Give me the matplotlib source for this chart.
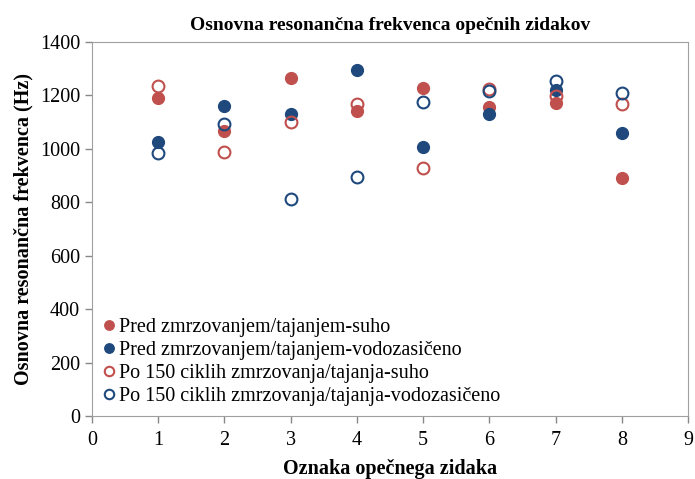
import matplotlib as mpl
import matplotlib.pyplot as plt

mpl.use('Agg')
plt.rcParams['font.family'] = ['Liberation Serif', 'DejaVu Serif']

zidak = [1, 2, 3, 4, 5, 6, 7, 8]
pred_suho = [1190, 1065, 1267, 1140, 1226, 1158, 1170, 892]
pred_voda = [1025, 1161, 1129, 1295, 1006, 1131, 1221, 1061]
po_suho = [1236, 987, 1100, 1169, 930, 1223, 1196, 1169]
po_voda = [984, 1092, 812, 893, 1176, 1216, 1255, 1210]

rdeca = '#C0504D'
modra = '#1F497D'

fig = plt.figure(figsize=(6.95, 4.79), dpi=100)
ax = fig.add_axes([92 / 695, 1 - 416 / 479, 596 / 695, 374 / 479])

ms = 8.5
ax.plot(zidak, pred_suho, 'o', ms=ms, color=rdeca, mec=rdeca,
        label='Pred zmrzovanjem/tajanjem-suho')
ax.plot(zidak, pred_voda, 'o', ms=ms, color=modra, mec=modra,
        label='Pred zmrzovanjem/tajanjem-vodozasičeno')
ax.plot(zidak, po_suho, 'o', ms=ms, mfc='none', mec=rdeca, mew=1.5,
        label='Po 150 ciklih zmrzovanja/tajanja-suho')
ax.plot(zidak, po_voda, 'o', ms=ms, mfc='none', mec=modra, mew=1.5,
        label='Po 150 ciklih zmrzovanja/tajanja-vodozasičeno')

ax.set_xlim(0, 9)
ax.set_ylim(0, 1400)
ax.set_xticks(range(0, 10))
ax.set_yticks(range(0, 1401, 200))
ax.tick_params(labelsize=14.5, color='#888888', length=5, width=1)
ax.tick_params(axis='x', pad=6)
for s in ax.spines.values():
    s.set_color('#a0a0a0')

ax.set_title('Osnovna resonančna frekvenca opečnih zidakov',
             fontsize=14, fontweight='bold', pad=9)
ax.set_xlabel('Oznaka opečnega zidaka', fontsize=14.5, fontweight='bold', labelpad=6)
ax.set_ylabel('Osnovna resonančna frekvenca (Hz)', fontsize=14.5,
              fontweight='bold', labelpad=5)

ax.legend(loc='lower left', frameon=False, fontsize=14.5, handletextpad=0.0,
          handlelength=1.0, labelspacing=0.2, borderaxespad=0.1,
          bbox_to_anchor=(-0.005, 0.0), markerscale=0.8)

fig.savefig('out.png', dpi=100)
